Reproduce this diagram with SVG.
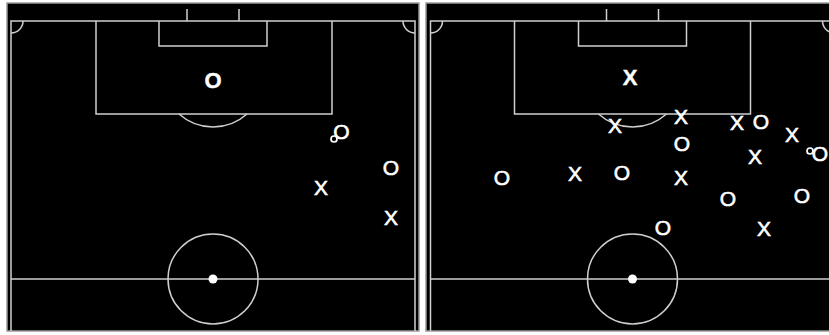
<svg xmlns="http://www.w3.org/2000/svg" width="829" height="335" viewBox="0 0 829 335">
<style>
.bg{fill:#000;stroke:#9a9a9a;stroke-width:1.5}
.ln{fill:none;stroke:#cfcfcf;stroke-width:1.5}
.spot{fill:#fff}
.p{font-family:"Liberation Sans",Arial,sans-serif;font-size:21px;fill:#fff;stroke:#fff;stroke-width:0.6;text-anchor:middle}
.b{font-weight:bold;font-size:22px;stroke-width:0.4}
.ring{fill:none;stroke:#fff;stroke-width:1.7}
</style>
<rect x="0" y="0" width="829" height="335" fill="#fff"/>
<g id="pitch-left">
<rect class="bg" x="7" y="3" width="412" height="328"/>
<path class="ln" d="M11,331 V21 H415 V331"/>
<path class="ln" d="M187,21 V9 M239,21 V9"/>
<path class="ln" d="M96,21 V114 H332 V21"/>
<path class="ln" d="M159,21 V46 H267 V21"/>
<path class="ln" d="M179,114 A51,51 0 0 0 247,114"/>
<path class="ln" d="M11,33 A12,12 0 0 0 23,21 M415,33 A12,12 0 0 1 403,21"/>
<line class="ln" x1="11" y1="279" x2="415" y2="279"/>
<circle class="ln" cx="213" cy="279" r="45"/>
<circle class="spot" cx="213" cy="279" r="4.5"/>
</g>
<g id="pitch-right">
<rect class="bg" x="426" y="3" width="412" height="328"/>
<path class="ln" d="M430.5,331 V21 H834.5 V331"/>
<path class="ln" d="M606.5,21 V9 M658.5,21 V9"/>
<path class="ln" d="M514.5,21 V114 H750.5 V21"/>
<path class="ln" d="M578.5,21 V46 H686.5 V21"/>
<path class="ln" d="M598.5,114 A51,51 0 0 0 666.5,114"/>
<path class="ln" d="M430.5,33 A12,12 0 0 0 442.5,21 M834.5,33 A12,12 0 0 1 822.5,21"/>
<line class="ln" x1="430.5" y1="279" x2="834.5" y2="279"/>
<circle class="ln" cx="632.5" cy="279" r="45"/>
<circle class="spot" cx="632.5" cy="279" r="4.5"/>
</g>
<g id="players-left">
<g id="l-gk"><text class="p b" x="213" y="88">O</text></g>
<g id="l-o1"><text class="p" x="341.5" y="138.5">O</text><circle class="ring" cx="334" cy="139" r="3"/></g>
<g id="l-o2"><text class="p" x="391" y="174.5">O</text></g>
<g id="l-x1"><text class="p" x="321" y="194.5">X</text></g>
<g id="l-x2"><text class="p" x="391" y="224.5">X</text></g>
</g>
<g id="players-right">
<g id="r-gk"><text class="p b" x="630" y="85">X</text></g>
<g id="r-x1"><text class="p" x="615" y="132.5">X</text></g>
<g id="r-x2"><text class="p" x="681" y="123.5">X</text></g>
<g id="r-x3"><text class="p" x="737" y="129.5">X</text></g>
<g id="r-o1"><text class="p" x="761" y="128.5">O</text></g>
<g id="r-x4"><text class="p" x="792" y="141.5">X</text></g>
<g id="r-o2"><text class="p" x="682" y="150.5">O</text></g>
<g id="r-x5"><text class="p" x="755" y="163.5">X</text></g>
<g id="r-o3"><text class="p" x="820" y="160.5">O</text><circle class="ring" cx="810" cy="151" r="3"/></g>
<g id="r-o4"><text class="p" x="502" y="184.5">O</text></g>
<g id="r-x6"><text class="p" x="575" y="180.5">X</text></g>
<g id="r-o5"><text class="p" x="622" y="179.5">O</text></g>
<g id="r-x7"><text class="p" x="681" y="184.5">X</text></g>
<g id="r-o6"><text class="p" x="728" y="205.5">O</text></g>
<g id="r-o7"><text class="p" x="802" y="202.5">O</text></g>
<g id="r-o8"><text class="p" x="663" y="234.5">O</text></g>
<g id="r-x8"><text class="p" x="764" y="235.5">X</text></g>
</g>
</svg>
